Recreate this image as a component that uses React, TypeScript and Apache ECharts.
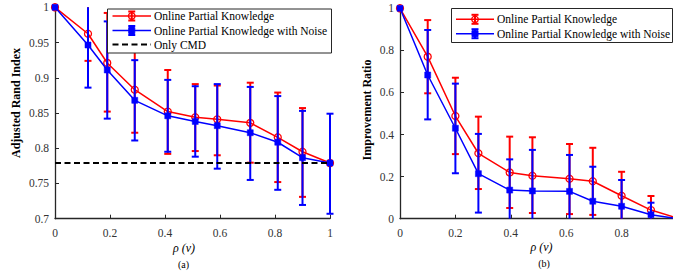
import React, { useEffect, useRef } from "react";
import * as echarts from "echarts";

// ---------- (a) Adjusted Rand Index ----------
const ariX = [0, 0.12, 0.19, 0.29, 0.41, 0.51, 0.59, 0.71, 0.81, 0.9, 1];
const ariOnline = [1, 0.9625, 0.921, 0.883, 0.852, 0.844, 0.841, 0.836, 0.8155, 0.795, 0.779];
const ariOnlineLow = [1, 0.924, 0.852, 0.822, 0.792, 0.796, 0.79, 0.7795, 0.752, 0.731, 0.779];
const ariOnlineHigh = [1, 1.001, 0.992, 0.944, 0.911, 0.891, 0.889, 0.893, 0.879, 0.857, 0.779];
const ariNoise = [1, 0.9465, 0.911, 0.868, 0.846, 0.838, 0.832, 0.822, 0.8085, 0.7866, 0.779];
const ariNoiseLow = [1, 0.886, 0.842, 0.811, 0.795, 0.788, 0.771, 0.755, 0.741, 0.7195, 0.707];
const ariNoiseHigh = [1, 1.007, 0.98, 0.925, 0.897, 0.888, 0.891, 0.887, 0.874, 0.853, 0.849];
const onlyCMD = 0.779;

// ---------- (b) Improvement Ratio ----------
const irX = [0, 0.1, 0.2, 0.283, 0.396, 0.478, 0.612, 0.696, 0.8, 0.906, 1];
const irOnline = [1, 0.77, 0.488, 0.311, 0.22, 0.204, 0.19, 0.178, 0.109, 0.041, 0.004];
const irOnlineLow = [1, 0.596, 0.307, 0.141, 0.051, 0.027, 0.022, 0.018, -0.004, -0.026, 0.004];
const irOnlineHigh = [1, 0.944, 0.67, 0.485, 0.39, 0.387, 0.355, 0.337, 0.223, 0.108, 0.004];
const irNoise = [1, 0.683, 0.43, 0.214, 0.136, 0.132, 0.13, 0.083, 0.059, 0.019, 0];
const irNoiseLow = [1, 0.472, 0.216, 0.029, -0.01, -0.06, -0.04, -0.08, -0.07, -0.04, 0];
const irNoiseHigh = [1, 0.897, 0.642, 0.403, 0.282, 0.327, 0.303, 0.247, 0.184, 0.076, 0];

const legendNames = ["Online Partial Knowledge", "Online Partial Knowledge with Noise", "Only CMD"];

const RED = "#ff0000";
const BLUE = "#0000ff";
const AX = "#262626";
const FONT = "'Liberation Serif', 'Times New Roman', serif";

function errRender(color: string) {
  return (params: any, api: any) => {
    const x = api.value(0);
    const lo = api.value(1);
    const hi = api.value(2);
    if (hi - lo < 1e-9) return { type: "group", children: [] };
    const pHi = api.coord([x, hi]);
    const pLo = api.coord([x, lo]);
    const cs = params.coordSys;
    const top = cs.y;
    const bot = cs.y + cs.height;
    const yT = Math.max(pHi[1], top);
    const yB = Math.min(pLo[1], bot);
    const hw = 3.5;
    const st = { stroke: color, lineWidth: 2 };
    const children: any[] = [
      { type: "line", shape: { x1: pHi[0], y1: yT, x2: pHi[0], y2: yB }, style: st },
    ];
    if (pHi[1] >= top - 0.5)
      children.push({ type: "line", shape: { x1: pHi[0] - hw, y1: pHi[1], x2: pHi[0] + hw, y2: pHi[1] }, style: st });
    if (pLo[1] <= bot + 0.5)
      children.push({ type: "line", shape: { x1: pLo[0] - hw, y1: pLo[1], x2: pLo[0] + hw, y2: pLo[1] }, style: st });
    return { type: "group", children };
  };
}

function errSeries(idx: number, xs: number[], lo: number[], hi: number[], color: string, z: number) {
  return {
    type: "custom",
    xAxisIndex: idx,
    yAxisIndex: idx,
    z,
    silent: true,
    renderItem: errRender(color),
    encode: { x: 0, y: [1, 2] },
    data: xs.map((x, i) => [x, lo[i], hi[i]]),
  };
}

function lineSeries(idx: number, name: string, xs: number[], ys: number[], color: string, circle: boolean, z: number) {
  return {
    type: "line",
    name,
    xAxisIndex: idx,
    yAxisIndex: idx,
    z,
    silent: true,
    data: xs.map((x, i) => [x, ys[i]]),
    symbol: circle ? "circle" : "rect",
    symbolSize: circle ? 7 : 6,
    showSymbol: true,
    lineStyle: { color, width: 1.5 },
    itemStyle: circle
      ? { color: "rgba(0,0,0,0)", borderColor: color, borderWidth: 1.3 }
      : { color, borderColor: color, borderWidth: 0.5 },
  };
}

function txt(x: number, y: number, text: string, size: number, opts: any = {}) {
  return {
    type: "text",
    x,
    y,
    rotation: opts.rotation || 0,
    z: 101,
    style: {
      text,
      fontFamily: FONT,
      fontSize: size,
      fontWeight: opts.bold ? "bold" : "normal",
      fontStyle: opts.italic ? "italic" : "normal",
      fill: "#000",
      align: opts.align || "center",
      verticalAlign: "middle",
    },
  };
}

function legendEntry(x1: number, x2: number, y: number, color: string, kind: string, label: string, tx: number) {
  const cx = (x1 + x2) / 2;
  const els: any[] = [];
  if (kind === "dash") {
    els.push({ type: "line", shape: { x1, y1: y, x2, y2: y }, style: { stroke: "#000", lineWidth: 2, lineDash: [6, 3.5] } });
  } else {
    const st = { stroke: color, lineWidth: 1.5 };
    els.push({ type: "line", shape: { x1, y1: y, x2, y2: y }, style: st });
    const est = { stroke: color, lineWidth: 2 };
    els.push({ type: "line", shape: { x1: cx, y1: y - 4.5, x2: cx, y2: y + 4.5 }, style: est });
    els.push({ type: "line", shape: { x1: cx - 3.5, y1: y - 4.5, x2: cx + 3.5, y2: y - 4.5 }, style: est });
    els.push({ type: "line", shape: { x1: cx - 3.5, y1: y + 4.5, x2: cx + 3.5, y2: y + 4.5 }, style: est });
    if (kind === "circle") {
      els.push({ type: "circle", shape: { cx, cy: y, r: 3.3 }, style: { fill: "rgba(0,0,0,0)", stroke: color, lineWidth: 1.3 } });
    } else {
      els.push({ type: "rect", shape: { x: cx - 3, y: y - 3, width: 6, height: 6 }, style: { fill: color, stroke: color } });
    }
  }
  els.forEach((e) => (e.z = 101));
  els.push(txt(tx, y, label, 11.5, { align: "left" }));
  return els;
}

function axisCommon(margin: number, hideMax = false) {
  return {
    axisLine: { show: true, lineStyle: { color: AX, width: 1.3 } },
    axisTick: { show: true, inside: true, length: 4, lineStyle: { color: AX } },
    splitLine: { show: false },
    axisLabel: {
      color: "#333",
      fontFamily: FONT,
      fontSize: 11.5,
      margin,
      showMaxLabel: !hideMax,
      formatter: (v: number) => String(+v.toFixed(2)),
    },
  };
}

export default function App() {
  const ref = useRef<HTMLDivElement>(null);
  useEffect(() => {
    if (!ref.current) return;
    const chart = echarts.init(ref.current, null as any, { renderer: "svg" });
    const graphic: any[] = [
      // Legend (a)
      { type: "rect", z: 100, shape: { x: 107.5, y: 9, width: 224, height: 44 }, style: { fill: "#fff", stroke: AX, lineWidth: 1 } },
      ...legendEntry(112.5, 151, 16, RED, "circle", legendNames[0], 154),
      ...legendEntry(112.5, 151, 30.5, BLUE, "square", legendNames[1], 154),
      ...legendEntry(112.5, 151, 44.5, "#000", "dash", legendNames[2], 154),
      // Legend (b)
      { type: "rect", z: 100, shape: { x: 451.5, y: 8.5, width: 221, height: 34 }, style: { fill: "#fff", stroke: AX, lineWidth: 1 } },
      ...legendEntry(456, 494, 19.3, RED, "circle", legendNames[0], 497),
      ...legendEntry(456, 494, 33.7, BLUE, "square", legendNames[1], 497),
      // Axis titles
      txt(15.7, 103, "Adjusted Rand Index", 12, { bold: true, rotation: Math.PI / 2 }),
      txt(366.7, 110, "Improvement Ratio", 12, { bold: true, rotation: Math.PI / 2 }),
      txt(184, 247.5, "ρ (v)", 12, { italic: true }),
      txt(541.5, 246.7, "ρ (v)", 12, { italic: true }),
      txt(183.5, 264, "(a)", 10),
      txt(544, 263.3, "(b)", 10),
    ];

    chart.setOption({
      animation: false,
      backgroundColor: "#fff",
      grid: [
        { left: 55, top: 7.3, width: 275, height: 211.4, containLabel: false, outerBoundsMode: "none" },
        { left: 400, top: 8.3, width: 277, height: 210.4, containLabel: false, outerBoundsMode: "none" },
      ],
      xAxis: [
        { type: "value", gridIndex: 0, min: 0, max: 1, interval: 0.2, ...axisCommon(8) },
        { type: "value", gridIndex: 1, min: 0, max: 1, interval: 0.2, ...axisCommon(8, true) },
      ],
      yAxis: [
        { type: "value", gridIndex: 0, min: 0.7, max: 1, interval: 0.05, ...axisCommon(6) },
        { type: "value", gridIndex: 1, min: 0, max: 1, interval: 0.2, ...axisCommon(6) },
      ],
      series: [
        errSeries(0, ariX, ariOnlineLow, ariOnlineHigh, RED, 2),
        lineSeries(0, legendNames[0], ariX, ariOnline, RED, true, 3),
        errSeries(0, ariX, ariNoiseLow, ariNoiseHigh, BLUE, 4),
        lineSeries(0, legendNames[1], ariX, ariNoise, BLUE, false, 5),
        {
          type: "line",
          name: legendNames[2],
          xAxisIndex: 0,
          yAxisIndex: 0,
          z: 6,
          silent: true,
          symbol: "none",
          data: [[0, onlyCMD], [1, onlyCMD]],
          lineStyle: { color: "#000", width: 2, type: [6, 3.5] },
        },
        errSeries(1, irX, irOnlineLow, irOnlineHigh, RED, 2),
        lineSeries(1, legendNames[0], irX, irOnline, RED, true, 3),
        errSeries(1, irX, irNoiseLow, irNoiseHigh, BLUE, 4),
        lineSeries(1, legendNames[1], irX, irNoise, BLUE, false, 5),
      ],
      graphic,
    });
    return () => chart.dispose();
  }, []);
  return (
    <div
      ref={ref}
      style={{ position: "fixed", left: 0, top: 0, width: 673, height: 275, background: "#fff" }}
    />
  );
}
